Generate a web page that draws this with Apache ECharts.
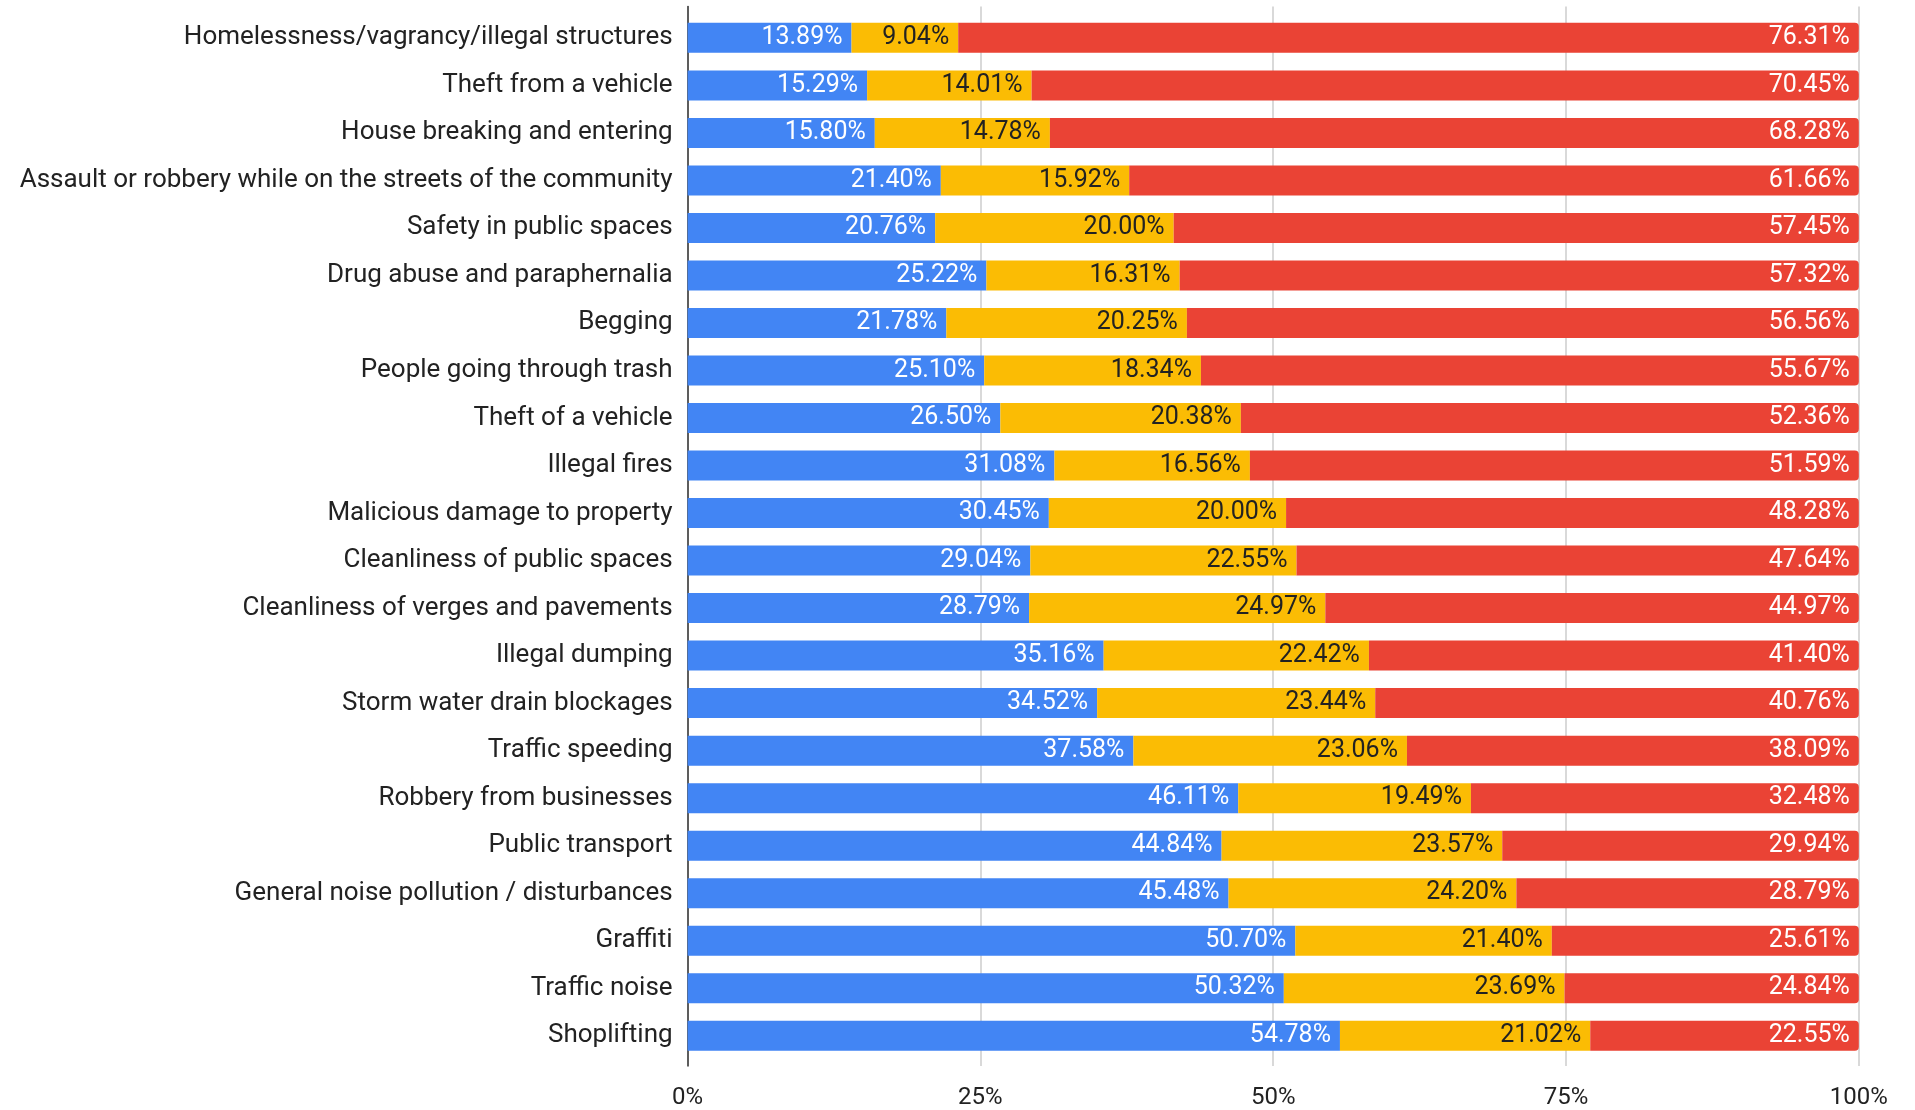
<!DOCTYPE html>
<html>
<head>
<meta charset="utf-8">
<script src="https://cdn.jsdelivr.net/npm/echarts@6/dist/echarts.min.js"></script>
<style>
html,body{margin:0;padding:0;background:#fff;}
#chart{width:1915px;height:1110px;}
</style>
</head>
<body>
<div id="chart"></div>
<script>
const categories = [
  "Homelessness/vagrancy/illegal structures",
  "Theft from a vehicle",
  "House breaking and entering",
  "Assault or robbery while on the streets of the community",
  "Safety in public spaces",
  "Drug abuse and paraphernalia",
  "Begging",
  "People going through trash",
  "Theft of a vehicle",
  "Illegal fires",
  "Malicious damage to property",
  "Cleanliness of public spaces",
  "Cleanliness of verges and pavements",
  "Illegal dumping",
  "Storm water drain blockages",
  "Traffic speeding",
  "Robbery from businesses",
  "Public transport",
  "General noise pollution / disturbances",
  "Graffiti",
  "Traffic noise",
  "Shoplifting"
];
const blueValues   = [13.89,15.29,15.80,21.40,20.76,25.22,21.78,25.10,26.50,31.08,30.45,29.04,28.79,35.16,34.52,37.58,46.11,44.84,45.48,50.70,50.32,54.78];
const yellowValues = [9.04,14.01,14.78,15.92,20.00,16.31,20.25,18.34,20.38,16.56,20.00,22.55,24.97,22.42,23.44,23.06,19.49,23.57,24.20,21.40,23.69,21.02];
const redValues    = [76.31,70.45,68.28,61.66,57.45,57.32,56.56,55.67,52.36,51.59,48.28,47.64,44.97,41.40,40.76,38.09,32.48,29.94,28.79,25.61,24.84,22.55];
const xTicks = [0,25,50,75,100];

const FONT = 'Roboto, "Liberation Sans", Arial, sans-serif';
const rowTotals = categories.map((c,i)=>blueValues[i]+yellowValues[i]+redValues[i]);
function share(arr){ return arr.map((v,i)=>v/rowTotals[i]*100); }

function mkSeries(name, raw, color, textColor, radius){
  return {
    name: name,
    type: 'bar',
    stack: 'total',
    xAxisIndex: 1,
    yAxisIndex: 1,
    barWidth: 30,
    data: share(raw),
    itemStyle: { color: color, borderRadius: radius },
    label: {
      show: true,
      position: 'insideRight',
      distance: 9,
      color: textColor,
      fontFamily: FONT,
      fontSize: 25,
      padding: [5,0,0,0],
      formatter: p => raw[p.dataIndex].toFixed(2) + '%'
    },
    emphasis: { disabled: true }
  };
}

const chart = echarts.init(document.getElementById('chart'), null, {renderer:'canvas'});
chart.setOption({
  animation: false,
  backgroundColor: '#ffffff',
  grid: [
    { left: 687.6, right: 56.2, top: 6.5, bottom: 41.5 },
    { left: 687.6, right: 56.2, top: 14.1, bottom: 50.5 }
  ],
  xAxis: [
    {
      gridIndex: 0, type: 'value', min: 0, max: 100, interval: 25,
      axisLine: { show: false }, axisTick: { show: false },
      splitLine: { show: true, lineStyle: { color: '#cccccc', width: 1.5 } },
      axisLabel: {
        formatter: v => v + '%', fontFamily: FONT, fontSize: 24, color: '#222222', margin: 20,
        customValues: xTicks
      }
    },
    {
      gridIndex: 1, type: 'value', min: 0, max: 100, show: false
    }
  ],
  yAxis: [
    {
      gridIndex: 0, type: 'value', min: 0, max: 1,
      axisLine: { show: true, onZero: false, lineStyle: { color: '#333333', width: 1.5 } },
      axisTick: { show: false }, axisLabel: { show: false }, splitLine: { show: false }
    },
    {
      gridIndex: 1, type: 'category', data: categories, inverse: true,
      axisLine: { show: false }, axisTick: { show: false }, splitLine: { show: false },
      axisLabel: { fontFamily: FONT, fontSize: 26, color: '#222222', margin: 15, padding: [5,0,0,0] }
    }
  ],
  series: [
    mkSeries('Blue', blueValues, '#4285F4', '#ffffff', 0),
    mkSeries('Yellow', yellowValues, '#FBBC04', '#222222', 0),
    mkSeries('Red', redValues, '#EA4335', '#ffffff', [0,4,4,0])
  ]
});
</script>
</body>
</html>
